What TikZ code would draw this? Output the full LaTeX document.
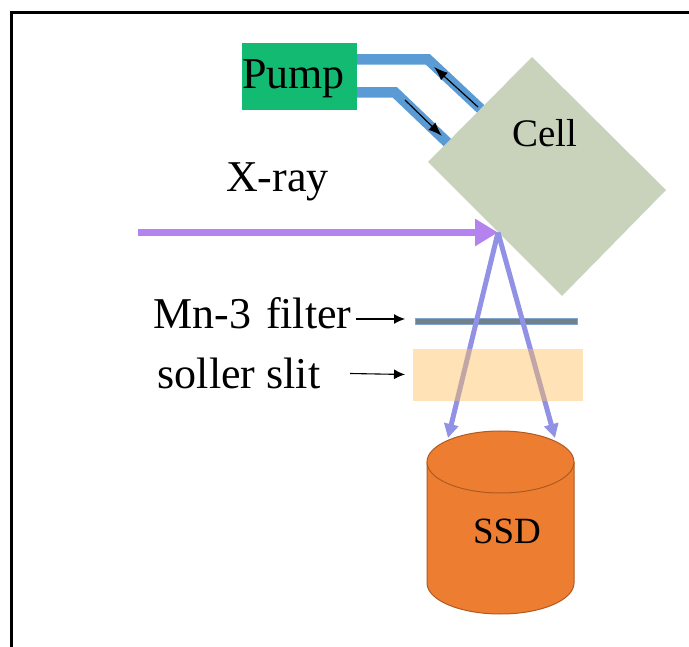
\documentclass[tikz,border=0pt]{standalone}
\usepackage{fontspec}
\setmainfont{Liberation Serif}
\usetikzlibrary{arrows.meta}
\definecolor{pumpgreen}{RGB}{19,187,114}
\definecolor{pipeblue}{RGB}{91,155,213}
\definecolor{cellgreen}{RGB}{201,210,186}
\definecolor{beampurple}{RGB}{181,131,240}
\definecolor{rayblue}{RGB}{145,145,230}
\definecolor{filtergrey}{RGB}{112,128,140}
\definecolor{filteredge}{RGB}{130,165,205}
\definecolor{slitorange}{RGB}{255,191,91}
\definecolor{ssdorange}{RGB}{237,125,49}
\definecolor{ssdedge}{RGB}{174,90,33}
\tikzset{
  pipe/.style={draw=pipeblue,line width=10.5pt},
  thinarrow/.style={draw=black,line width=1.2pt,-{Latex[length=14pt,width=10pt]}},
  labelarrow/.style={draw=black,line width=1.1pt,-{Latex[length=11pt,width=10pt]}},
  ray/.style={draw=rayblue,line width=5pt,-{Triangle[length=14pt,width=14pt]}},
  lbl/.style={inner sep=0pt,text=black,font=\fontsize{44pt}{44pt}\selectfont}
}
\begin{document}
\begin{tikzpicture}[x=1pt,y=-1pt]
\useasboundingbox (0,0) rectangle (689,647);
\fill[white] (0,0) rectangle (689,647);
\draw[black,line width=3pt] (11.5,647) -- (11.5,12.5) -- (689,12.5);
% named points
\coordinate (p1a) at (357,59.5);
\coordinate (p1b) at (428,59.5);
\coordinate (p1c) at (484,112);
\coordinate (p2a) at (357,92.5);
\coordinate (p2b) at (395,92.5);
\coordinate (p2c) at (451,146);
\coordinate (t1a) at (478,107);
\coordinate (t1b) at (434,67);
\coordinate (t2a) at (405,100);
\coordinate (t2b) at (442,136);
\coordinate (beamstart) at (138,232.5);
\coordinate (focus) at (498,232.5);
\coordinate (rayL) at (448,438);
\coordinate (rayR) at (555,438);
\coordinate (a1s) at (356,319);
\coordinate (a1e) at (405,319);
\coordinate (a2s) at (350,373.5);
\coordinate (a2e) at (405,374.5);
% pipes
\draw[pipe] (p1a) -- (p1b) -- (p1c);
\draw[pipe] (p2a) -- (p2b) -- (p2c);
\draw[thinarrow] (t1a) -- (t1b);
\draw[thinarrow] (t2a) -- (t2b);
% cell
\fill[cellgreen] (532,57) -- (666,190) -- (562,296) -- (428,162) -- cycle;
\node[inner sep=0pt,font=\fontsize{39pt}{39pt}\selectfont] (cell) at (544.5,133) {Cell};
% pump
\node[fill=pumpgreen,minimum width=115pt,minimum height=67pt,inner sep=0pt,anchor=north west] (pump) at (242,43) {};
\node[lbl] (pumptext) at (293.5,79) {Pump};
% filter
\node[draw=filteredge,fill=filtergrey,line width=1pt,minimum width=162pt,minimum height=6pt,inner sep=0pt,anchor=north west] (filter) at (415,318) {};
% SSD cylinder
\draw[ssdedge,fill=ssdorange,line width=1pt] (427,462) -- (427,583) arc[start angle=180,end angle=360,x radius=73.5pt,y radius=31pt] -- (574,462);
\draw[ssdedge,fill=ssdorange,line width=1pt] (500.5,462) ellipse[x radius=73.5pt,y radius=31pt];
% rays
\draw[draw=beampurple,line width=7pt,-{Triangle[length=23pt,width=26pt]}] (beamstart) -- (focus);
\draw[ray] (focus) -- (rayL);
\draw[ray] (focus) -- (rayR);
% slit
\node[fill=slitorange,fill opacity=0.45,minimum width=170pt,minimum height=52pt,inner sep=0pt,anchor=north west] (slit) at (413,349) {};
% labels
\node[lbl] (xray) at (277.5,182) {X-ray};
\node[lbl] (mn) at (252.5,313) {Mn-3\hspace{4pt} filter};
\node[lbl] (soller) at (239,373) {soller slit};
\node[inner sep=0pt,font=\fontsize{37pt}{37pt}\selectfont] (ssd) at (507,531) {SSD};
\draw[labelarrow] (a1s) -- (a1e);
\draw[labelarrow] (a2s) -- (a2e);
\end{tikzpicture}
\end{document}
